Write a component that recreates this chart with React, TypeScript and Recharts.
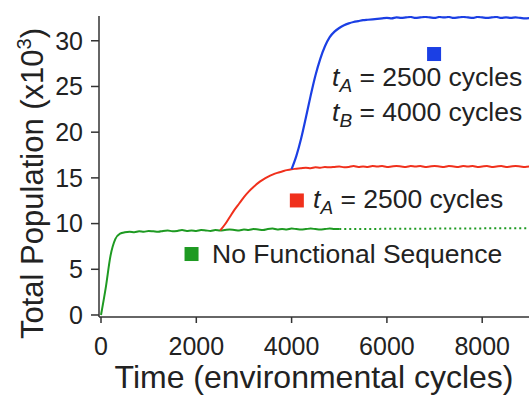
import React from 'react';
import { LineChart, Line, XAxis, YAxis, Label, ReferenceDot } from 'recharts';

// time axis, one sample every 100 environmental cycles
const cycles = [
  0, 100, 200, 300, 400, 500, 600, 700, 800, 900,
  1000, 1100, 1200, 1300, 1400, 1500, 1600, 1700, 1800, 1900,
  2000, 2100, 2200, 2300, 2400, 2500, 2600, 2700, 2800, 2900,
  3000, 3100, 3200, 3300, 3400, 3500, 3600, 3700, 3800, 3900,
  4000, 4100, 4200, 4300, 4400, 4500, 4600, 4700, 4800, 4900,
  5000, 5100, 5200, 5300, 5400, 5500, 5600, 5700, 5800, 5900,
  6000, 6100, 6200, 6300, 6400, 6500, 6600, 6700, 6800, 6900,
  7000, 7100, 7200, 7300, 7400, 7500, 7600, 7700, 7800, 7900,
  8000, 8100, 8200, 8300, 8400, 8500, 8600, 8700, 8800, 8900,
  9000,
];

// population (x10^3), no functional sequence, 0..5000 cycles
const noSequence = [
  0.0, 3.0, 6.5, 8.3, 8.9, 9.05, 9.1, 9.05, 9.15, 9.1,
  9.2, 9.15, 9.1, 9.2, 9.25, 9.15, 9.2, 9.3, 9.2, 9.25,
  9.2, 9.3, 9.25, 9.2, 9.3, 9.25, 9.3, 9.35, 9.3, 9.25,
  9.35, 9.3, 9.4, 9.35, 9.3, 9.4, 9.45, 9.35, 9.4, 9.35,
  9.45, 9.4, 9.35, 9.4, 9.45, 9.4, 9.35, 9.4, 9.45, 9.4,
  9.4,
];

// dotted continuation of the baseline
const projectionCycles = [5000, 9000];
const projection = [9.4, 9.5];

// tA = 2500 cycles, from 2500 onward
const withAStart = 2500;
const withA = [
  9.25, 9.9, 10.7, 11.5, 12.2,
  12.9, 13.5, 14.0, 14.45, 14.8, 15.1, 15.35, 15.55, 15.7, 15.85,
  15.95, 16.0, 16.05, 16.1, 16.05, 16.15, 16.1, 16.2, 16.15, 16.2,
  16.25, 16.15, 16.2, 16.3, 16.2, 16.25, 16.2, 16.3, 16.25, 16.3,
  16.2, 16.25, 16.3, 16.25, 16.2, 16.3, 16.25, 16.3, 16.2, 16.25,
  16.3, 16.25, 16.2, 16.3, 16.25, 16.2, 16.3, 16.25, 16.3, 16.2,
  16.25, 16.3, 16.2, 16.25, 16.3, 16.2, 16.25, 16.3, 16.25, 16.2,
  16.25,
];

// tA = 2500, tB = 4000 cycles, from 4000 onward
const withABStart = 4000;
const withAB = [
  15.95, 17.4, 19.3, 21.6, 24.0, 26.2, 28.0, 29.4, 30.4, 31.0,
  31.4, 31.7, 31.9, 32.05, 32.15, 32.25, 32.3, 32.35, 32.4, 32.45,
  32.5, 32.45, 32.55, 32.5, 32.55, 32.6, 32.5, 32.55, 32.6, 32.55,
  32.5, 32.6, 32.55, 32.6, 32.5, 32.55, 32.6, 32.55, 32.5, 32.6,
  32.55, 32.5, 32.55, 32.6, 32.5, 32.55, 32.5, 32.55, 32.5, 32.45,
  32.5,
];

const xTicks = [0, 2000, 4000, 6000, 8000];
const yTicks = [0, 5, 10, 15, 20, 25, 30];

const BLUE = '#1b3fe4';
const RED = '#f0301c';
const GREEN = '#1e9a22';
const INK = '#222';
const AXIS = '#333';
const FONT = '"Liberation Sans", Arial, Helvetica, sans-serif';

const aStartIdx = cycles.indexOf(withAStart);
const abStartIdx = cycles.indexOf(withABStart);

const rows = cycles.map((c, i) => {
  const p = projectionCycles.indexOf(c);
  return {
    cycles: c,
    noSequence: i < noSequence.length ? noSequence[i] : null,
    projection: p >= 0 ? projection[p] : null,
    withA: i >= aStartIdx ? withA[i - aStartIdx] : null,
    withAB: i >= abStartIdx ? withAB[i - abStartIdx] : null,
  };
});

const square = (color: string) => (props: any) => (
  <rect x={props.cx - 7} y={props.cy - 7} width={14} height={14} fill={color} />
);

const tLabel = (sub: string, rest: string) => (props: any) => (
  <text x={props.cx} y={props.cy} fontSize={26.5} fill={INK} fontFamily={FONT} style={{ whiteSpace: 'pre' }}>
    <tspan fontStyle="italic">t</tspan>
    <tspan fontStyle="italic" fontSize={19} dy={6}>{sub}</tspan>
    <tspan dy={-6}>{' = ' + rest}</tspan>
  </text>
);

const plainLabel = (text: string) => (props: any) => (
  <text x={props.cx} y={props.cy} fontSize={26.5} fill={INK} fontFamily={FONT}>{text}</text>
);

const xTitle = (props: any) => {
  const { x, y, width } = props.viewBox;
  return (
    <text x={x + width / 2} y={y + 71} textAnchor="middle" fontSize={32} fill={INK} fontFamily={FONT}>
      Time (environmental cycles)
    </text>
  );
};

const yTitle = (props: any) => {
  const { y, height } = props.viewBox;
  const cx = 43;
  const cy = y + height / 2 + 17;
  return (
    <text x={cx} y={cy} transform={`rotate(-90, ${cx}, ${cy})`} textAnchor="middle" fontSize={31} fill={INK} fontFamily={FONT}>
      Total Population (x10
      <tspan fontSize={20} dy={-12}>3</tspan>
      <tspan dy={12}>)</tspan>
    </text>
  );
};

export default function App() {
  return (
    <div style={{ position: 'absolute', left: 0, top: 0, background: '#fff' }}>
      <LineChart width={529} height={395} data={rows} margin={{ top: 16, right: 0, bottom: 0, left: 0 }}>
        <XAxis
          dataKey="cycles"
          type="number"
          domain={[-42, 8982]}
          allowDataOverflow
          ticks={xTicks}
          height={78}
          tickSize={6}
          tickMargin={14}
          stroke={AXIS}
          strokeWidth={1.5}
          tick={{ fill: INK, fontSize: 25, fontFamily: FONT }}
        >
          <Label content={xTitle} />
        </XAxis>
        <YAxis
          type="number"
          domain={[-0.22, 32.71]}
          allowDataOverflow
          ticks={yTicks}
          width={99}
          tickSize={8}
          tickMargin={8}
          stroke={AXIS}
          strokeWidth={1.5}
          tick={{ fill: INK, fontSize: 25, fontFamily: FONT }}
        >
          <Label content={yTitle} />
        </YAxis>
        <Line dataKey="projection" stroke={GREEN} strokeWidth={2} strokeDasharray="2 3" dot={false} activeDot={false} connectNulls isAnimationActive={false} />
        <Line type="monotone" dataKey="noSequence" stroke={GREEN} strokeWidth={2} dot={false} activeDot={false} isAnimationActive={false} />
        <Line type="monotone" dataKey="withA" stroke={RED} strokeWidth={2} dot={false} activeDot={false} isAnimationActive={false} />
        <Line type="monotone" dataKey="withAB" stroke={BLUE} strokeWidth={2.2} dot={false} activeDot={false} isAnimationActive={false} />

        <ReferenceDot x={6990} y={28.55} r={0} shape={square(BLUE)} />
        <ReferenceDot x={4848} y={25.05} r={0} shape={tLabel('A', '2500 cycles')} />
        <ReferenceDot x={4848} y={21.2} r={0} shape={tLabel('B', '4000 cycles')} />

        <ReferenceDot x={4110} y={12.53} r={0} shape={square(RED)} />
        <ReferenceDot x={4450} y={11.7} r={0} shape={tLabel('A', '2500 cycles')} />

        <ReferenceDot x={1900} y={6.67} r={0} shape={square(GREEN)} />
        <ReferenceDot x={2330} y={5.72} r={0} shape={plainLabel('No Functional Sequence')} />
      </LineChart>
    </div>
  );
}
